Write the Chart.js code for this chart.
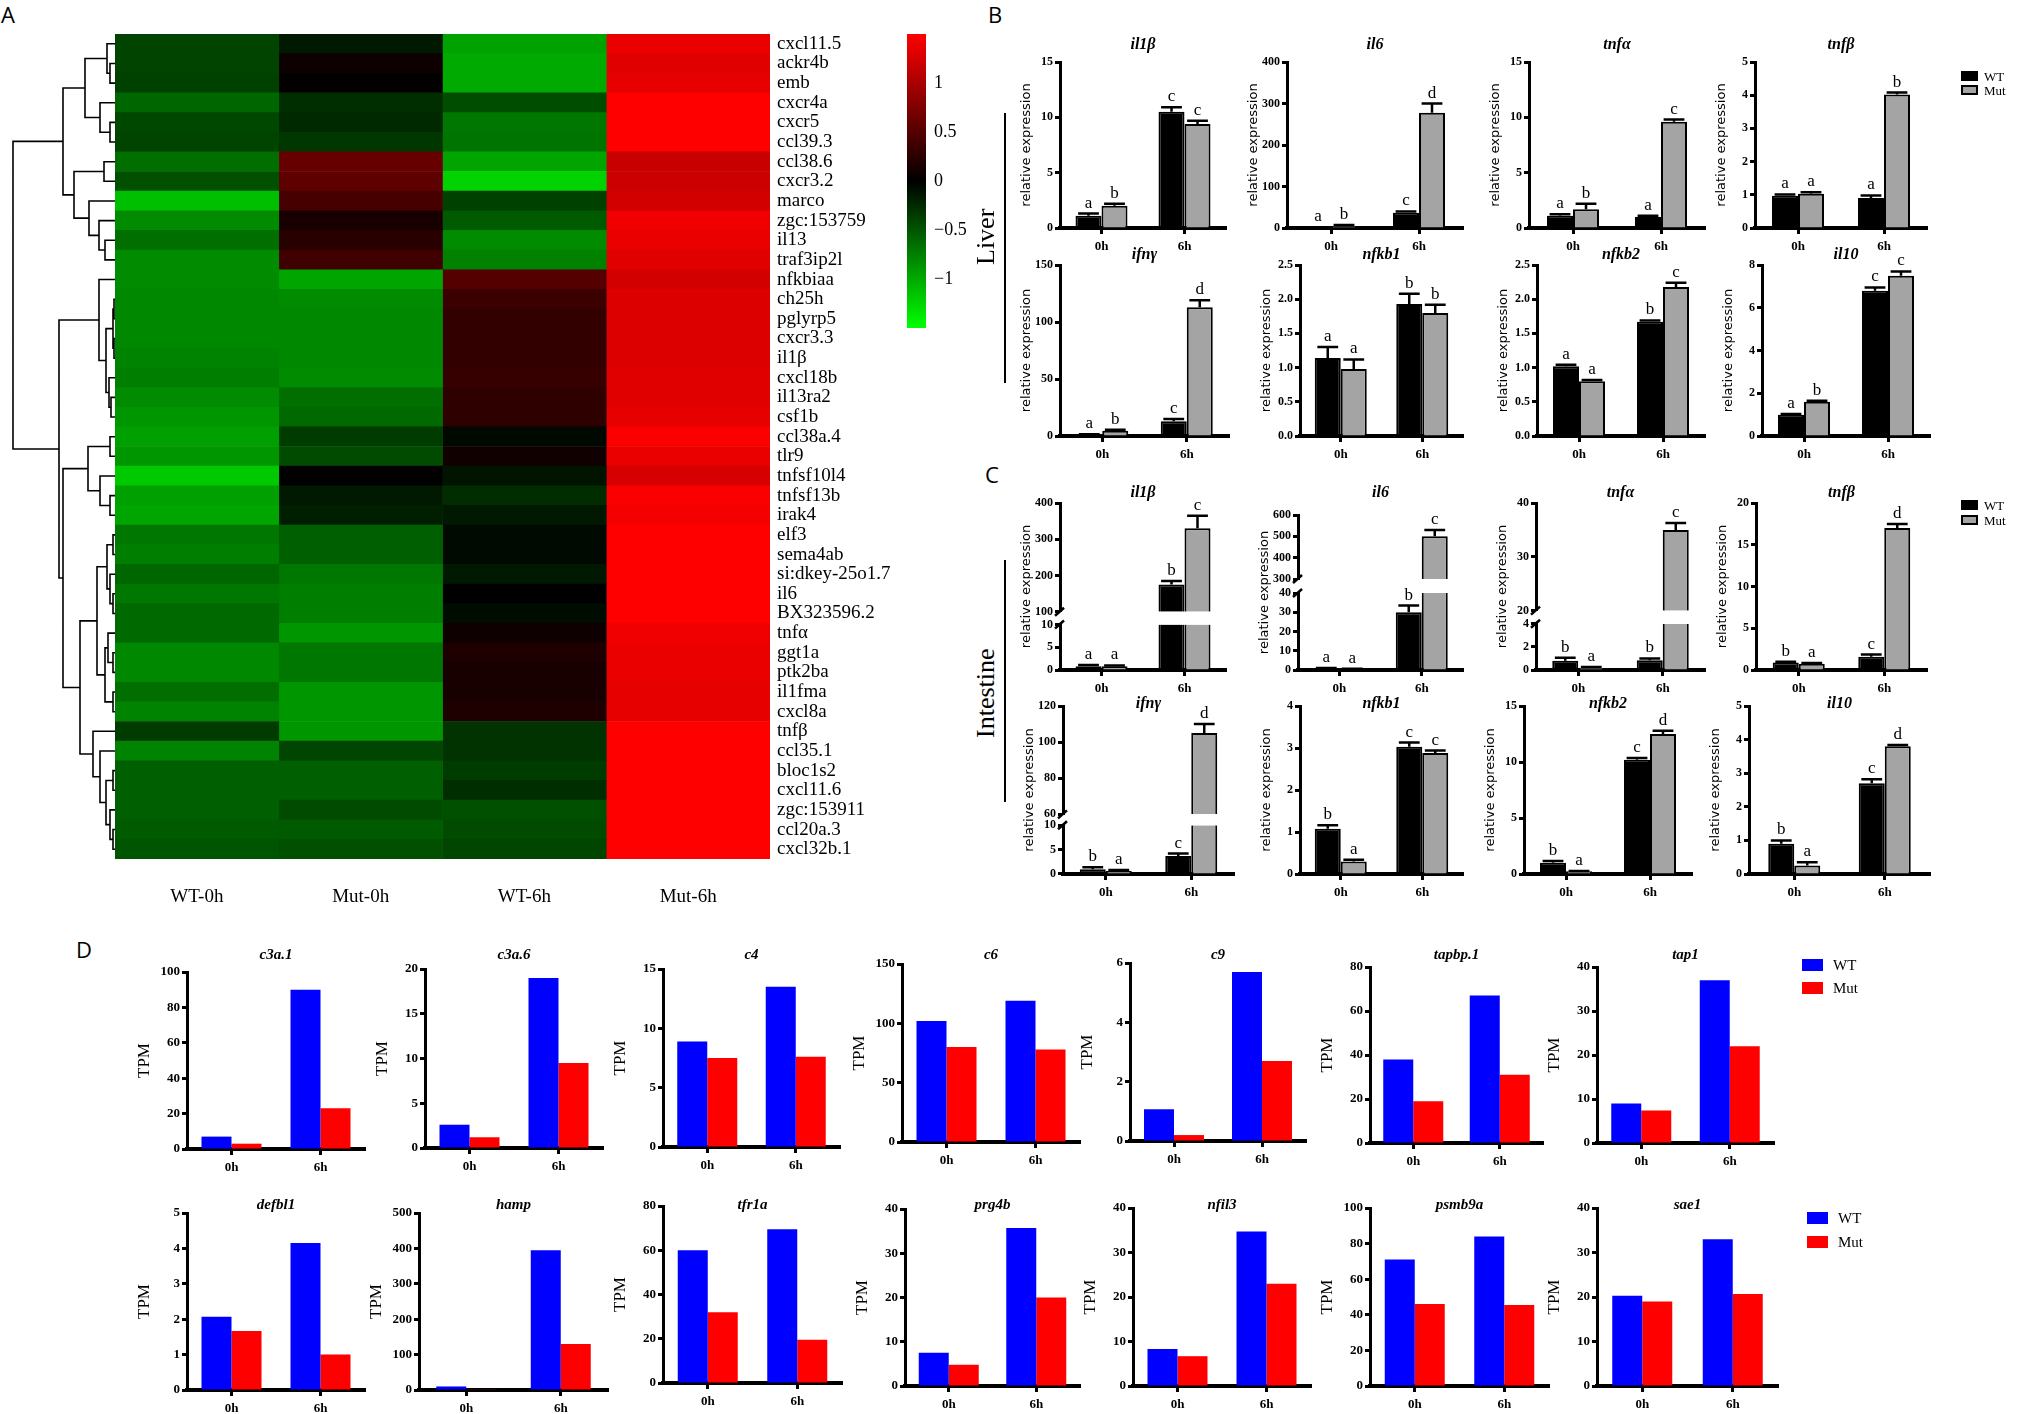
<!DOCTYPE html>
<html>
<head>
<meta charset="utf-8">
<title>Figure</title>
<script src="https://cdn.jsdelivr.net/npm/chart.js@4.4.1/dist/chart.umd.min.js"></script>
<style>
  html, body { margin: 0; padding: 0; background: #ffffff; }
  body { position: relative; width: 2020px; height: 1414px; overflow: hidden; }
  canvas { position: absolute; }
  .t { position: absolute; white-space: nowrap; color: #000; line-height: 1; }
</style>
</head>
<body>
<script>
// ================= DATA =================
const hours = ['0h', '6h'];

// Panel A heatmap (row z-scores)
const heatGenes = ['cxcl11.5','ackr4b','emb','cxcr4a','cxcr5','ccl39.3','ccl38.6','cxcr3.2','marco','zgc:153759','il13','traf3ip2l','nfkbiaa','ch25h','pglyrp5','cxcr3.3','il1β','cxcl18b','il13ra2','csf1b','ccl38a.4','tlr9','tnfsf10l4','tnfsf13b','irak4','elf3','sema4ab','si:dkey-25o1.7','il6','BX323596.2','tnfα','ggt1a','ptk2ba','il1fma','cxcl8a','tnfβ','ccl35.1','bloc1s2','cxcl11.6','zgc:153911','ccl20a.3','cxcl32b.1'];
const heatColumns = ['WT-0h', 'Mut-0h', 'WT-6h', 'Mut-6h'];
const heatWT0  = [-0.4,-0.4,-0.38,-0.6,-0.42,-0.4,-0.65,-0.47,-1.12,-0.82,-0.65,-0.82,-0.82,-0.8,-0.8,-0.8,-0.77,-0.74,-0.82,-0.88,-0.94,-0.88,-1.18,-0.94,-0.97,-0.7,-0.74,-0.6,-0.7,-0.62,-0.62,-0.8,-0.8,-0.65,-0.77,-0.35,-0.77,-0.56,-0.56,-0.56,-0.53,-0.5];
const heatMut0 = [-0.15,0.08,0.02,-0.27,-0.24,-0.32,0.6,0.55,0.42,0.15,0.24,0.38,-0.97,-0.82,-0.8,-0.8,-0.8,-0.82,-0.65,-0.62,-0.35,-0.44,0,-0.15,-0.18,-0.56,-0.56,-0.7,-0.74,-0.74,-0.88,-0.7,-0.7,-0.88,-0.88,-0.88,-0.41,-0.56,-0.56,-0.44,-0.53,-0.47];
const heatWT6  = [-0.95,-1.0,-1.0,-0.45,-0.7,-0.68,-0.97,-1.24,-0.38,-0.53,-0.82,-0.76,0.5,0.35,0.3,0.3,0.3,0.32,0.27,0.27,-0.05,0.1,-0.12,-0.26,-0.15,-0.06,-0.06,-0.15,0,-0.07,0.09,0.18,0.15,0.15,0.18,-0.3,-0.3,-0.35,-0.27,-0.47,-0.44,-0.41];
const heatMut6 = [1.38,1.32,1.35,1.5,1.5,1.5,1.18,1.2,1.24,1.41,1.38,1.32,1.24,1.3,1.3,1.3,1.3,1.32,1.32,1.35,1.47,1.38,1.26,1.47,1.44,1.5,1.5,1.5,1.5,1.5,1.41,1.38,1.38,1.35,1.35,1.5,1.5,1.5,1.5,1.5,1.5,1.5];
const colorbarRange = [-1.5, 1.5];
const colorbarTicks = [-1, -0.5, 0, 0.5, 1];
// Row dendrogram, hclust-style merge list: [left, right, height]; negative = leaf (row number), positive = earlier merge
const dendroMerge = [
  [-2,-3,5],[-1,1,8],[-5,-6,5],[-4,3,15],[2,4,30],[-7,-8,11],[-11,-12,10],[-10,7,16],[-9,8,26],[6,9,41],[5,10,52],
  [-14,-15,1],[-16,-17,1],[12,13,2],[-19,-20,4],[-18,15,6],[14,16,9],[-13,17,16],
  [-21,-22,5],[-24,-25,5],[-23,20,15],[19,21,27],
  [-26,-27,2],[-29,-30,2],[-28,24,5],[23,25,8],[-32,-33,2],[-31,27,7],[-34,-35,2],[28,29,10],[26,30,18],
  [-41,-42,2],[-40,32,5],[-38,-39,2],[34,33,9],[-37,35,15],[-36,36,22],[31,37,35],
  [22,38,52],[18,39,56],[11,40,102]
];

// Panels B/C genes
const qpcrGenes = ['il1β','il6','tnfα','tnfβ','ifnγ','nfkb1','nfkb2','il10'];

// Panel B: Liver
const liverWT        = [[1.1,10.5],[1,37],[1.1,1.0],[0.97,0.9],[1,13],[1.14,1.93],[1.02,1.67],[1.0,6.8]];
const liverWTErr     = [[0.2,0.4],[1,3],[0.15,0.1],[0.04,0.08],[0.5,2],[0.16,0.15],[0.02,0.02],[0.03,0.15]];
const liverMut       = [[2.0,9.4],[5,278],[1.7,9.6],[1.03,4.02],[4.5,113],[0.98,1.8],[0.8,2.18],[1.6,7.5]];
const liverMutErr    = [[0.2,0.3],[2,22],[0.5,0.2],[0.05,0.06],[1,6],[0.14,0.12],[0.02,0.06],[0.05,0.2]];
const liverWTLetters = [['a','c'],['a','c'],['a','a'],['a','a'],['a','c'],['a','b'],['a','b'],['a','c']];
const liverMutLetters= [['b','c'],['b','d'],['b','c'],['a','b'],['b','d'],['a','b'],['a','c'],['b','c']];
const liverMax  = [15,400,15,5,150,2.5,2.5,8];
const liverStep = [5,100,5,1,50,0.5,0.5,2];

// Panel C: Intestine
const gutWT        = [[0.8,175],[0.8,30],[0.8,0.85],[0.9,1.6],[1.0,3.7],[1.08,3.03],[1.0,10.2],[0.9,2.7]];
const gutWTErr     = [[0.3,10],[0.3,3.5],[0.25,0.15],[0.1,0.25],[0.4,0.5],[0.08,0.1],[0.15,0.15],[0.1,0.12]];
const gutMut       = [[0.8,330],[0.5,500],[0.2,35],[0.75,17],[0.6,105],[0.3,2.88],[0.25,12.5],[0.25,3.8]];
const gutMutErr    = [[0.2,35],[0.2,30],[0.05,1.3],[0.1,0.5],[0.2,5],[0.04,0.06],[0.02,0.3],[0.1,0.04]];
const gutWTLetters = [['a','b'],['a','b'],['b','b'],['b','c'],['b','c'],['b','c'],['b','c'],['b','c']];
const gutMutLetters= [['a','c'],['a','c'],['a','c'],['a','d'],['a','d'],['a','c'],['a','d'],['a','d']];
const gutMax       = [400,600,40,20,120,4,15,5];
const gutStep      = [100,100,10,5,20,1,5,1];
const gutBreakLow  = [10,40,4,null,10,null,null,null];   // top of lower axis segment
const gutBreakHigh = [100,300,20,null,60,null,null,null]; // bottom of upper axis segment
const gutLowStep   = [5,10,2,null,5,null,null,null];

// Panel D: TPM
const tpmGenes = ['c3a.1','c3a.6','c4','c6','c9','tapbp.1','tap1','defbl1','hamp','tfr1a','prg4b','nfil3','psmb9a','sae1'];
const tpmWT  = [[7,90],[2.6,19],[8.9,13.5],[102,119],[1.07,5.7],[38,67],[9,37],[2.07,4.15],[10,395],[60,69.5],[7.5,35.7],[8.3,34.7],[71,84],[20.3,33]];
const tpmMut = [[3,23],[1.2,9.5],[7.5,7.6],[80,78],[0.2,2.7],[19,31],[7.4,22],[1.67,1.0],[1,130],[32,19.5],[4.8,20],[6.7,23],[46,45.5],[19,20.7]];
const tpmMax  = [100,20,15,150,6,80,40,5,500,80,40,40,100,40];
const tpmStep = [20,5,5,50,2,20,10,1,100,20,10,10,20,10];

// ================= HELPERS =================
const SERIF = "'Liberation Serif', 'Times New Roman', serif";
const SANS = "'DejaVu Sans', Verdana, sans-serif";
Chart.defaults.font.family = SERIF;
Chart.defaults.color = '#000';

function place(left, top, w, h) {
  const cv = document.createElement('canvas');
  cv.width = w; cv.height = h;
  cv.style.left = left + 'px'; cv.style.top = top + 'px';
  cv.style.width = w + 'px'; cv.style.height = h + 'px';
  document.body.appendChild(cv);
  return cv;
}
function addText(str, x, y, css) {
  const d = document.createElement('div');
  d.className = 't';
  d.textContent = str;
  d.style.cssText = 'left:' + x + 'px;top:' + y + 'px;' + css;
  document.body.appendChild(d);
  return d;
}
// vertical text (reads bottom-to-top) centred on (cx, cy)
function addVText(str, cx, cy, css) {
  const d = addText(str, 0, 0, css + 'transform-origin:0 0;transform:rotate(-90deg);');
  const w = d.offsetWidth, h = d.offsetHeight;
  d.style.left = (cx - h / 2) + 'px';
  d.style.top = (cy + w / 2) + 'px';
  return d;
}
function addBox(x, y, w, h, css) {
  const d = document.createElement('div');
  d.style.cssText = 'position:absolute;box-sizing:border-box;left:' + x + 'px;top:' + y + 'px;width:' + w + 'px;height:' + h + 'px;' + css;
  document.body.appendChild(d);
  return d;
}
function heatColor(v) {
  const t = Math.min(1, Math.abs(v) / 1.5);
  const c = Math.round(255 * t);
  return v >= 0 ? 'rgb(' + c + ',0,0)' : 'rgb(0,' + c + ',0)';
}

// gene title centred over the plot area
const geneTitle = {
  id: 'geneTitle',
  afterDraw(chart, args, opts) {
    const a = chart.chartArea, ctx = chart.ctx;
    ctx.save();
    ctx.fillStyle = '#000';
    ctx.font = 'italic bold ' + opts.size + 'px ' + SERIF;
    ctx.textAlign = 'center'; ctx.textBaseline = 'middle';
    ctx.fillText(opts.text, (a.left + a.right) / 2, opts.y);
    ctx.restore();
  }
};

// error bars, significance letters and axis-break marks
const barExtras = {
  id: 'barExtras',
  afterDatasetsDraw(chart) {
    const ctx = chart.ctx;
    ctx.save();
    chart.data.datasets.forEach((ds, di) => {
      const meta = chart.getDatasetMeta(di);
      const ys = chart.scales[meta.yAxisID];
      meta.data.forEach((el, i) => {
        const raw = ds.data[i];
        if (raw === null || raw === undefined) return;
        const v = Array.isArray(raw) ? raw[1] : raw;
        let topPx = el.y;
        const e = ds.errors ? ds.errors[i] : null;
        if (e !== null && e !== undefined) {
          const yt = ys.getPixelForValue(v + e);
          const half = el.width * 0.4;
          ctx.strokeStyle = '#000'; ctx.lineWidth = 2.5;
          ctx.beginPath();
          ctx.moveTo(el.x, el.y); ctx.lineTo(el.x, yt);
          ctx.moveTo(el.x - half, yt); ctx.lineTo(el.x + half, yt);
          ctx.stroke();
          topPx = yt;
        }
        const L = ds.letters ? ds.letters[i] : null;
        if (L) {
          ctx.fillStyle = '#000';
          ctx.font = '17px ' + SERIF;
          ctx.textAlign = 'center'; ctx.textBaseline = 'alphabetic';
          ctx.fillText(L, el.x, topPx - 6);
        }
      });
    });
    const gap = chart.scales.yGap;
    if (gap) {
      const x = chart.chartArea.left;
      ctx.strokeStyle = '#000'; ctx.lineWidth = 2.5;
      [gap.top, gap.bottom].forEach(y => {
        ctx.beginPath(); ctx.moveTo(x - 5, y + 4); ctx.lineTo(x + 4, y - 4); ctx.stroke();
      });
    }
    ctx.restore();
  }
};

function smallChart(o) {
  const yOff = 56, tW = 18, rPad = 8, xH = 32;
  const left = Math.round(o.axisX - yOff);
  const ctop = Math.round(Math.min(o.titleY - 12, o.top - 10));
  const w = Math.round(o.right - left + rPad);
  const h = Math.round(o.zero - ctop + xH);
  const cv = place(left, ctop, w, h);
  const catW = (o.right - o.axisX) / 2;
  const catPct = Math.min(0.95, 2 * o.barW / catW);
  const tickFont = { family: SERIF, weight: 'bold', size: o.tickSize };
  const fmt = (step) => (v) => step < 1 ? Number(v).toFixed(1) : String(v);
  const vFit = (s, width) => { s.width = width; s.paddingTop = 0; s.paddingBottom = 0; };
  function yScale(min, max, step, extra) {
    return Object.assign({
      type: 'linear', position: 'left', min: min, max: max, stacked: false,
      ticks: { stepSize: step, font: tickFont, color: '#000', padding: 2, autoSkip: false, callback: fmt(step) },
      grid: { display: true, drawOnChartArea: false, drawTicks: true, tickLength: 5, tickWidth: 3, tickColor: '#000' },
      border: { display: true, width: 3, color: '#000' },
      afterFit: (s) => vFit(s, yOff - tW)
    }, extra);
  }
  const scales = {
    x: {
      type: 'category', offset: true,
      grid: { display: true, drawOnChartArea: false, offset: false, drawTicks: true, tickLength: 6, tickWidth: 3, tickColor: '#000' },
      border: { display: true, width: 4, color: '#000' },
      ticks: { font: { family: SERIF, weight: 'bold', size: 13 }, color: '#000', padding: 5, maxRotation: 0, autoSkip: false },
      afterFit: (s) => { s.height = xH; s.paddingLeft = 0; s.paddingRight = 0; }
    },
    yt: {
      type: 'linear', position: 'left', weight: 10,
      grid: { display: false, drawTicks: false }, border: { display: false }, ticks: { display: false },
      title: { display: true, text: o.yTitle, color: '#000', font: o.yTitleFont, padding: { top: o.yTitlePad, bottom: 0 } },
      afterFit: (s) => vFit(s, tW)
    }
  };
  const datasets = [];
  if (!o.brk) {
    scales.y = yScale(0, o.max, o.step, { weight: 1 });
  } else {
    scales.yHigh = yScale(o.brk.high, o.max, o.step, { stack: 'v', stackWeight: o.brk.weights[0], weight: 3 });
    scales.yGap = {
      type: 'linear', position: 'left', stack: 'v', stackWeight: o.brk.weights[1], weight: 2,
      grid: { display: false, drawTicks: false }, border: { display: false }, ticks: { display: false },
      afterFit: (s) => vFit(s, yOff - tW)
    };
    scales.yLow = yScale(0, o.brk.low, o.brk.lowStep, { stack: 'v', stackWeight: o.brk.weights[2], weight: 1 });
  }
  o.series.forEach((s, k) => {
    const base = {
      label: s.label, xAxisID: 'x', stack: 's' + k, backgroundColor: s.bg, borderColor: s.border,
      categoryPercentage: catPct, barPercentage: 1, borderSkipped: 'start'
    };
    if (!o.brk) {
      datasets.push(Object.assign({}, base, {
        yAxisID: 'y', data: s.values.slice(), errors: s.errors || null, letters: s.letters || null, borderWidth: s.bw
      }));
    } else {
      const lim = o.brk.low;
      const inLow = s.values.map(v => v <= lim);
      datasets.push(Object.assign({}, base, {
        yAxisID: 'yLow', data: s.values.map(v => Math.min(v, lim)),
        errors: s.errors ? s.errors.map((e, i) => inLow[i] ? e : null) : null,
        letters: s.letters ? s.letters.map((l, i) => inLow[i] ? l : null) : null,
        borderWidth: (c) => inLow[c.dataIndex] ? s.bw : { left: s.bw, right: s.bw, top: 0, bottom: 0 }
      }));
      datasets.push(Object.assign({}, base, {
        yAxisID: 'yHigh', data: s.values.map(v => v > lim ? [o.brk.high, v] : null),
        errors: s.errors ? s.errors.map((e, i) => inLow[i] ? null : e) : null,
        letters: s.letters ? s.letters.map((l, i) => inLow[i] ? null : l) : null,
        borderWidth: s.bw
      }));
    }
  });
  return new Chart(cv, {
    type: 'bar',
    data: { labels: hours, datasets: datasets },
    options: {
      responsive: false, animation: false, devicePixelRatio: 1, events: [],
      layout: { padding: { left: 0, top: o.top - ctop, right: rPad, bottom: 0 } },
      plugins: {
        legend: { display: false }, tooltip: { enabled: false }, title: { display: false },
        geneTitle: { text: o.title, y: o.titleY - ctop, size: o.titleSize }
      },
      scales: scales
    },
    plugins: [barExtras, geneTitle]
  });
}

// ================= PANEL A =================
// dendrogram
(function () {
  const nodes = [];
  const pts = [];
  const pos = (r) => r < 0 ? { h: 0, y: -r - 0.5 } : nodes[r - 1];
  dendroMerge.forEach(([a, b, hgt]) => {
    const A = pos(a), B = pos(b);
    pts.push({ x: A.h, y: A.y }, { x: hgt, y: A.y }, { x: hgt, y: B.y }, { x: B.h, y: B.y }, { x: null, y: null });
    nodes.push({ h: hgt, y: (A.y + B.y) / 2 });
  });
  const cv = place(0, 34, 116, 825);
  new Chart(cv, {
    type: 'scatter',
    data: { datasets: [{ data: pts, showLine: true, spanGaps: false, borderColor: '#000', borderWidth: 1.6, pointRadius: 0 }] },
    options: {
      responsive: false, animation: false, devicePixelRatio: 1, events: [],
      layout: { padding: 0 },
      plugins: { legend: { display: false }, tooltip: { enabled: false } },
      scales: {
        x: { type: 'linear', min: -1, max: 115, reverse: true, display: false },
        y: { type: 'linear', min: 0, max: heatGenes.length, reverse: true, display: false }
      }
    }
  });
})();

// heatmap
(function () {
  const cols = [heatWT0, heatMut0, heatWT6, heatMut6];
  const cv = place(115, 34, 800, 895);
  new Chart(cv, {
    type: 'bar',
    data: {
      labels: heatGenes,
      datasets: cols.map((vals, c) => ({
        label: heatColumns[c],
        data: heatGenes.map(() => [c, c + 1]),
        backgroundColor: vals.map(heatColor),
        borderWidth: 0, grouped: false, barPercentage: 1, categoryPercentage: 1
      }))
    },
    options: {
      indexAxis: 'y',
      responsive: false, animation: false, devicePixelRatio: 1, events: [],
      layout: { padding: 0 },
      plugins: { legend: { display: false }, tooltip: { enabled: false } },
      scales: {
        y: {
          type: 'category', position: 'right', offset: true,
          grid: { display: false, drawTicks: false }, border: { display: false },
          ticks: { autoSkip: false, font: { family: SERIF, size: 19 }, color: '#000', padding: 7 },
          afterFit: (s) => { s.width = 145; s.paddingTop = 0; s.paddingBottom = 0; }
        },
        x: {
          type: 'linear', position: 'bottom', min: 0, max: heatColumns.length,
          grid: { display: false, drawTicks: false }, border: { display: false },
          afterBuildTicks: (s) => { s.ticks = heatColumns.map((_, i) => ({ value: i + 0.5 })); },
          ticks: { callback: (v, i) => heatColumns[i], font: { family: SERIF, size: 19 }, color: '#000', padding: 27, maxRotation: 0, autoSkip: false },
          afterFit: (s) => { s.height = 70; s.paddingLeft = 0; s.paddingRight = 0; }
        }
      }
    }
  });
})();

// colour key
(function () {
  const cv = place(907, 34, 60, 294);
  new Chart(cv, {
    type: 'bar',
    data: {
      labels: [''],
      datasets: [{
        data: [colorbarRange.slice()],
        backgroundColor: (c) => {
          const ch = c.chart;
          if (!ch.chartArea) return '#000';
          const ys = ch.scales.y;
          const gr = ch.ctx.createLinearGradient(0, ys.getPixelForValue(colorbarRange[0]), 0, ys.getPixelForValue(colorbarRange[1]));
          gr.addColorStop(0, heatColor(colorbarRange[0]));
          gr.addColorStop(0.5, heatColor(0));
          gr.addColorStop(1, heatColor(colorbarRange[1]));
          return gr;
        },
        borderWidth: 0, barPercentage: 1, categoryPercentage: 1
      }]
    },
    options: {
      responsive: false, animation: false, devicePixelRatio: 1, events: [],
      layout: { padding: 0 },
      plugins: { legend: { display: false }, tooltip: { enabled: false } },
      scales: {
        x: { display: false, offset: true },
        y: {
          position: 'right', min: colorbarRange[0], max: colorbarRange[1],
          grid: { display: false, drawTicks: false }, border: { display: false },
          afterBuildTicks: (s) => { s.ticks = colorbarTicks.map(v => ({ value: v })); },
          ticks: { padding: 8, font: { family: SERIF, size: 18 }, color: '#000', callback: (v) => v < 0 ? '\u2212' + Math.abs(v) : String(v) },
          afterFit: (s) => { s.width = 41; s.paddingTop = 0; s.paddingBottom = 0; }
        }
      }
    }
  });
})();

// ================= PANELS B & C =================
const bcLayout = [
  { axisX: [1060, 1287, 1529, 1755], right: [1226, 1463, 1705, 1927], top: [62, 62, 62, 62], zero: 228, titleY: 45 },
  { axisX: [1060, 1300, 1537, 1762], right: [1229, 1463, 1705, 1930], top: [265, 265, 265, 265], zero: 436, titleY: 255 },
  { axisX: [1060, 1298, 1536, 1756], right: [1226, 1463, 1705, 1927], top: [503, 515, 503, 503], zero: 670, titleY: 493 },
  { axisX: [1063, 1300, 1524, 1749], right: [1234, 1463, 1692, 1930], top: [706, 706, 706, 706], zero: 874, titleY: 704 }
];
const gutBreakWeights = [[110, 13, 46], [64, 14, 77], [107, 13, 46], null, [109, 11, 49], null, null, null];
const relFont = { family: SANS, size: 13 };

qpcrGenes.forEach((gene, i) => {
  const row = i < 4 ? 0 : 1, col = i % 4;
  // Liver
  let L = bcLayout[row];
  smallChart({
    axisX: L.axisX[col], right: L.right[col], top: L.top[col], zero: L.zero, titleY: L.titleY,
    title: gene, titleSize: 16, tickSize: 12,
    yTitle: 'relative expression', yTitleFont: relFont, yTitlePad: 15,
    max: liverMax[i], step: liverStep[i], brk: null, barW: 26,
    series: [
      { label: 'WT', values: liverWT[i], errors: liverWTErr[i], letters: liverWTLetters[i], bg: '#000000', border: '#000000', bw: 2 },
      { label: 'Mut', values: liverMut[i], errors: liverMutErr[i], letters: liverMutLetters[i], bg: '#a4a4a4', border: '#000000', bw: 2 }
    ]
  });
  // Intestine
  L = bcLayout[2 + row];
  smallChart({
    axisX: L.axisX[col], right: L.right[col], top: L.top[col], zero: L.zero, titleY: L.titleY,
    title: gene, titleSize: 16, tickSize: 12,
    yTitle: 'relative expression', yTitleFont: relFont, yTitlePad: 15,
    max: gutMax[i], step: gutStep[i], barW: 26,
    brk: gutBreakLow[i] === null ? null : { low: gutBreakLow[i], high: gutBreakHigh[i], lowStep: gutLowStep[i], weights: gutBreakWeights[i] },
    series: [
      { label: 'WT', values: gutWT[i], errors: gutWTErr[i], letters: gutWTLetters[i], bg: '#000000', border: '#000000', bw: 2 },
      { label: 'Mut', values: gutMut[i], errors: gutMutErr[i], letters: gutMutLetters[i], bg: '#a4a4a4', border: '#000000', bw: 2 }
    ]
  });
});

// ================= PANEL D =================
const dLayout = [
  { axisX: [187, 425, 663, 902, 1130, 1370, 1597], right: [365, 603, 840, 1080, 1306, 1543, 1774], top: [972, 969, 969, 964, 963, 967, 967], zero: [1149, 1148, 1147, 1142, 1141, 1143, 1143], titleY: 955 },
  { axisX: [187, 419, 663, 905, 1133, 1370, 1597], right: [365, 608, 842, 1080, 1311, 1549, 1778], top: [1213, 1213, 1206, 1209, 1208, 1208, 1208], zero: [1390, 1390, 1383, 1386, 1386, 1386, 1386], titleY: 1205 }
];
tpmGenes.forEach((gene, i) => {
  const row = i < 7 ? 0 : 1, col = i % 7;
  const L = dLayout[row];
  smallChart({
    axisX: L.axisX[col], right: L.right[col], top: L.top[col], zero: L.zero[col], titleY: L.titleY,
    title: gene, titleSize: 15, tickSize: 13,
    yTitle: 'TPM', yTitleFont: { family: SERIF, size: 17 }, yTitlePad: 3,
    max: tpmMax[i], step: tpmStep[i], brk: null, barW: 30,
    series: [
      { label: 'WT', values: tpmWT[i], bg: '#0000ff', border: '#0000ff', bw: 0 },
      { label: 'Mut', values: tpmMut[i], bg: '#ff0000', border: '#ff0000', bw: 0 }
    ]
  });
});

// ================= TEXT / LEGENDS =================
const panelCss = "font-family:'Open Sans','Liberation Sans',sans-serif;font-size:22px;";
addText('A', 1, 3, panelCss);
addText('B', 988, 3, panelCss);
addText('C', 985, 463, panelCss);
addText('D', 76, 938, panelCss);

const rotCss = "font-family:" + SERIF + ";font-size:26px;";
addVText('Liver', 986, 237, rotCss);
addVText('Intestine', 986, 693, rotCss);
addBox(1004, 113, 1.5, 270, 'background:#000;');
addBox(1004, 560, 1.5, 242, 'background:#000;');

const legCss = "font-family:" + SERIF + ";font-size:13px;transform:translateY(-50%);";
[[76, 90], [505, 520]].forEach(([yWT, yMut]) => {
  addBox(1961, yWT - 5, 17, 10, 'background:#000;');
  addText('WT', 1984, yWT, legCss);
  addBox(1961, yMut - 5, 17, 10, 'background:#a4a4a4;border:2px solid #000;');
  addText('Mut', 1984, yMut, legCss);
});
const legDCss = "font-family:" + SERIF + ";font-size:15px;transform:translateY(-50%);";
[[1802, 965, 988], [1807, 1218, 1242]].forEach(([x, yWT, yMut]) => {
  addBox(x, yWT - 6, 21, 12, 'background:#0000ff;');
  addText('WT', x + 31, yWT, legDCss);
  addBox(x, yMut - 6, 21, 12, 'background:#ff0000;');
  addText('Mut', x + 31, yMut, legDCss);
});
</script>
</body>
</html>
